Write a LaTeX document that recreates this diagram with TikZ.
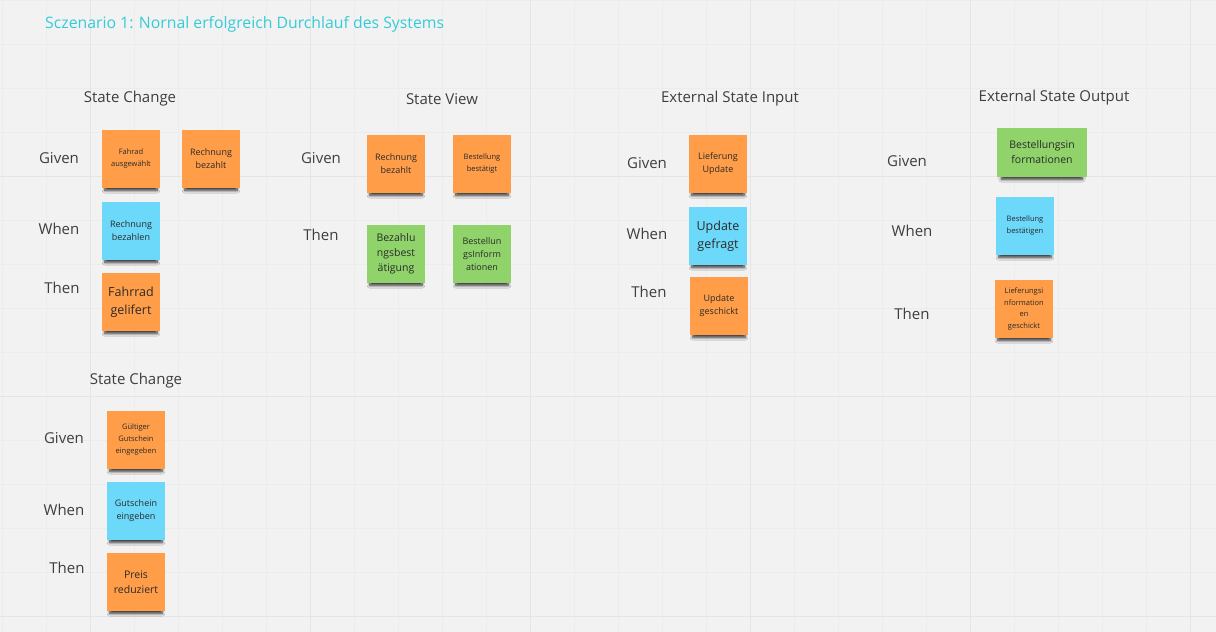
\documentclass[tikz,border=0pt]{standalone}
\usepackage{fontspec}
\setmainfont{Open Sans}
\usetikzlibrary{shadows.blur}

\definecolor{bgcol}{HTML}{F2F2F2}
\definecolor{gridminor}{HTML}{ECECEC}
\definecolor{gridmajor}{HTML}{E5E5E5}
\definecolor{titlecyan}{HTML}{33CCD8}
\definecolor{labeltext}{HTML}{3E3E3E}
\definecolor{notetext}{HTML}{2B2B2B}
\definecolor{noteorange}{HTML}{FF9D48}
\definecolor{noteblue}{HTML}{6CD8FA}
\definecolor{notegreen}{HTML}{8FD36A}

\tikzset{
  sticky/.style={minimum width=58pt, minimum height=58pt, inner sep=1pt,
    align=center, text=notetext,
    blur shadow={shadow xshift=0pt, shadow yshift=-6pt, shadow scale=.9,
      shadow blur radius=3pt, shadow blur steps=8, shadow opacity=80}},
  orangenote/.style={sticky, fill=noteorange},
  bluenote/.style={sticky, fill=noteblue},
  greennote/.style={sticky, fill=notegreen},
  ftiny/.style={font=\fontsize{7.5}{12}\selectfont},
  fsmall/.style={font=\fontsize{9}{13}\selectfont},
  fmid/.style={font=\fontsize{10.5}{15}\selectfont},
  flarge/.style={font=\fontsize{12.5}{18}\selectfont},
  rowlabel/.style={text=labeltext, font=\fontsize{15}{18}\selectfont},
  coltitle/.style={text=labeltext, font=\fontsize{15}{18}\selectfont},
}

\begin{document}
\begin{tikzpicture}[x=1pt, y=-1pt]
    % Hintergrund und Raster
    \fill[bgcol] (0,0) rectangle (1216,632);
    \useasboundingbox (0,0) rectangle (1216,632);
    \foreach \x in {2,46,...,1216} \draw[gridminor, line width=.8pt] (\x,0) -- (\x,632);
    \foreach \y in {0,44,...,632} \draw[gridminor, line width=.8pt] (0,\y) -- (1216,\y);
    \foreach \x in {90,310,...,1216} \draw[gridmajor, line width=1pt] (\x,0) -- (\x,632);
    \foreach \y in {176,396,616} \draw[gridmajor, line width=1pt] (0,\y) -- (1216,\y);

    % Titel
    \node[anchor=west, text=titlecyan, font=\fontsize{15.8}{18}\selectfont, inner sep=0pt]
      (titel) at (45,24) {Sczenario 1: Nornal erfolgreich Durchlauf des Systems};

    % State Change
    \node[coltitle] (sc-titel) at (130,99) {State Change};
    \node[rowlabel] (sc-given) at (59,158) {Given};
    \node[rowlabel] (sc-when) at (59,229) {When};
    \node[rowlabel] (sc-then) at (62,288) {Then};
    \node[orangenote, ftiny] (sc-fahrrad) at (131,159) {Fahrad\\ausgewählt};
    \node[orangenote, fsmall] (sc-bezahlt) at (211,159) {Rechnung\\bezahlt};
    \node[bluenote, fsmall] (sc-bezahlen) at (131,231) {Rechnung\\bezahlen};
    \node[orangenote, flarge] (sc-geliefert) at (131,302) {Fahrrad\\gelifert};

    % State View
    \node[coltitle] (sv-titel) at (442,99) {State View};
    \node[rowlabel] (sv-given) at (321,158) {Given};
    \node[rowlabel] (sv-then) at (321,235) {Then};
    \node[orangenote, fsmall] (sv-bezahlt) at (396,164) {Rechnung\\bezahlt};
    \node[orangenote, ftiny] (sv-bestaetigt) at (482,164) {Bestellung\\bestätigt};
    \node[greennote, fmid] (sv-bezahlung) at (396,254) {Bezahlu\\ngsbest\\ätigung};
    \node[greennote, fsmall] (sv-info) at (482,254) {Bestellun\\gsInform\\ationen};

    % External State Input
    \node[coltitle] (esi-titel) at (730,99) {External State Input};
    \node[rowlabel] (esi-given) at (647,163) {Given};
    \node[rowlabel] (esi-when) at (647,234) {When};
    \node[rowlabel] (esi-then) at (649,292) {Then};
    \node[orangenote, fsmall] (esi-lieferung) at (718,164) {Lieferung\\Update};
    \node[bluenote, flarge] (esi-gefragt) at (718,236) {Update\\gefragt};
    \node[orangenote, fsmall] (esi-geschickt) at (719,306) {Update\\geschickt};

    % External State Output
    \node[coltitle] (eso-titel) at (1054,98) {External State Output};
    \node[rowlabel] (eso-given) at (907,161) {Given};
    \node[rowlabel] (eso-when) at (912,231) {When};
    \node[rowlabel] (eso-then) at (912,314) {Then};
    \node[greennote, fmid, minimum width=90pt, minimum height=49pt] (eso-info) at (1042,152) {Bestellungsin\\formationen};
    \node[bluenote, ftiny] (eso-bestaetigen) at (1025,226) {Bestellung\\bestätigen};
    \node[orangenote, ftiny, font=\fontsize{7.5}{11.5}\selectfont] (eso-lieferinfo) at (1024,309) {Lieferungsi\\nformation\\en\\geschickt};

    % State Change (Gutschein)
    \node[coltitle] (gs-titel) at (136,381) {State Change};
    \node[rowlabel] (gs-given) at (64,438) {Given};
    \node[rowlabel] (gs-when) at (64,510) {When};
    \node[rowlabel] (gs-then) at (67,568) {Then};
    \node[orangenote, ftiny] (gs-gueltig) at (136,440) {Gültiger\\Gutschein\\eingegeben};
    \node[bluenote, fsmall] (gs-eingeben) at (136,511) {Gutschein\\eingeben};
    \node[orangenote, fmid] (gs-preis) at (136,582) {Preis\\reduziert};
\end{tikzpicture}
\end{document}
